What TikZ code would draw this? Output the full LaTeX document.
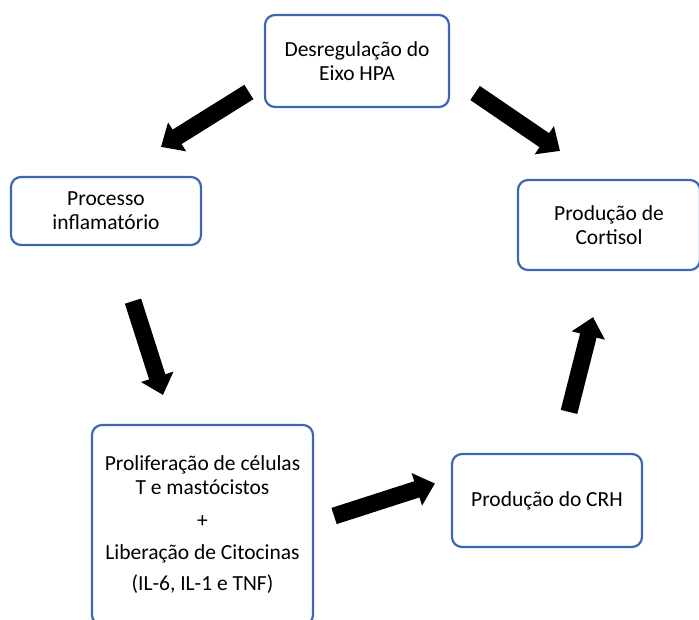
\documentclass[tikz,border=0pt]{standalone}
\usepackage{fontspec}
\setmainfont{Carlito}
\usepackage{tikz}
\usetikzlibrary{positioning, calc, arrows.meta}
\definecolor{boxblue}{RGB}{62,102,178}
\tikzset{stage/.style={draw=boxblue, line width=2.2pt, rounded corners=10pt, fill=white,
    align=center, inner sep=4pt, font=\fontsize{21.5}{24}\selectfont}}
\tikzset{bigarrow/.style={line width=17pt, -{Triangle[width=33pt, length=19pt]}}}

\begin{document}
\begin{tikzpicture}[x=1pt, y=-1pt]
          \useasboundingbox (0,0) rectangle (699,619);

          \node[stage, minimum width=184pt, minimum height=92pt] (desreg) at (357,61)
          {Desregulação do\\Eixo HPA};

          \node[stage, minimum width=190pt, minimum height=68pt] (inflam) at (106,211)
          {Processo\\inflamatório};

          \node[stage, minimum width=182pt, minimum height=90pt] (cortisol) at (609,225)
          {Produção de\\Cortisol};

          \node[stage, minimum width=221pt, minimum height=200pt] (prolif) at (202.5,525)
          {Proliferação de células\\T e mastócistos\\[9pt]+\\[8pt]Liberação de Citocinas\\[7pt](IL-6, IL-1 e TNF)};

          \node[stage, minimum width=190pt, minimum height=93pt] (crh) at (547,500.5)
          {Produção do CRH};

          % arrow ends
          \coordinate (a1s) at ($(desreg.west)+(-15,31)$);
          \coordinate (a1e) at ($(inflam.north)+(55,-29)$);
          \coordinate (a2s) at ($(desreg.east)+(25,32)$);
          \coordinate (a2e) at ($(cortisol.north)+(-49,-28)$);
          \coordinate (a3s) at ($(inflam.south)+(27,55)$);
          \coordinate (a3e) at ($(prolif.north)+(-39.5,-29)$);
          \coordinate (a4s) at ($(prolif.east)+(20,-9)$);
          \coordinate (a4e) at ($(crh.west)+(-16,-17)$);
          \coordinate (a5s) at ($(crh.north)+(22,-41)$);
          \coordinate (a5e) at ($(cortisol.south)+(-16,46)$);

          \draw[bigarrow] (a1s) -- (a1e);
          \draw[bigarrow] (a2s) -- (a2e);
          \draw[bigarrow] (a3s) -- (a3e);
          \draw[bigarrow] (a4s) -- (a4e);
          \draw[bigarrow] (a5s) -- (a5e);
\end{tikzpicture}
\end{document}
